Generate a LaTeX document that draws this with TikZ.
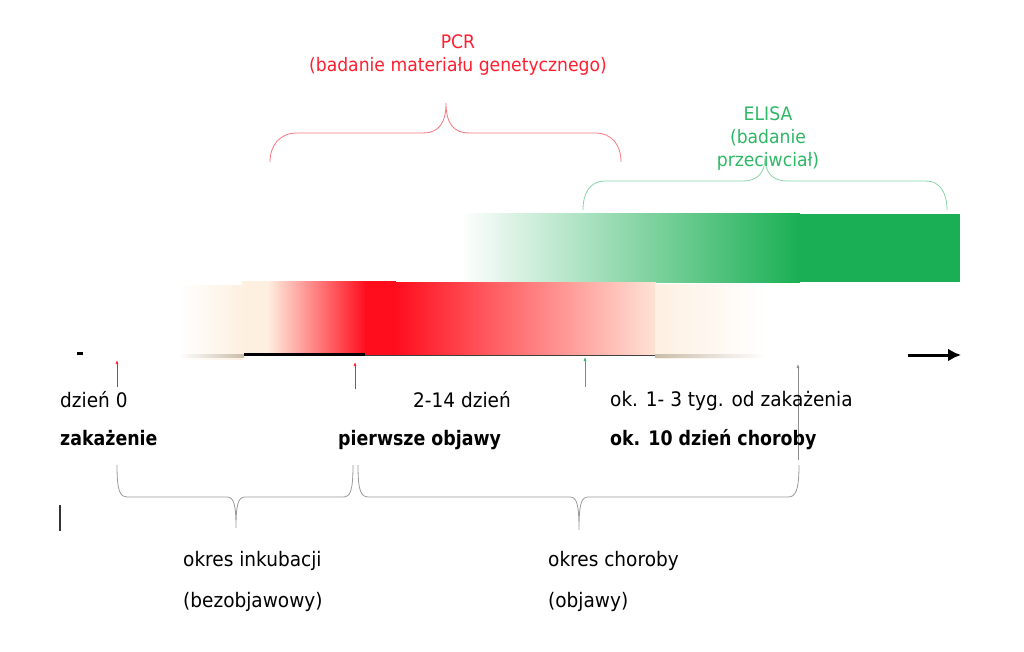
\documentclass[tikz,border=0pt]{standalone}
\usepackage{fontspec}
\setmainfont{DejaVu Sans}[FakeStretch=0.925, BoldFeatures={FakeStretch=0.87}]
\usetikzlibrary{arrows.meta}
\definecolor{pcrred}{HTML}{FF1F30}
\definecolor{pcrbr}{HTML}{F4767E}
\definecolor{elgreen}{HTML}{2DB865}
\definecolor{elbr}{HTML}{86D5A6}
\definecolor{barred}{HTML}{FF0D1D}
\definecolor{bargreen}{HTML}{1AAF54}
\definecolor{cream}{HTML}{FEF0E1}
\definecolor{pale}{HTML}{FFE3D6}
\definecolor{fadegray}{HTML}{C9BDAA}
\begin{document}
\begin{tikzpicture}[x=1pt,y=-1pt,
  lbl/.style={anchor=base west, inner sep=0pt, font=\fontsize{20}{24}\selectfont},
  lblb/.style={anchor=base west, inner sep=0pt, font=\fontsize{20}{24}\selectfont\bfseries},
  head/.style={anchor=base, inner sep=0pt, font=\fontsize{18.6}{22}\selectfont},
  tick/.style={-{Latex[length=4pt,width=3pt]}, line width=0.6pt},
  brace/.style={line width=0.8pt}]
  \useasboundingbox (0,0) rectangle (1024,652);

  % green bar (ELISA)
  \shade[left color=white, right color=bargreen] (460,214) rectangle (800,282);
  \fill[bargreen] (799,214) rectangle (960,282);

  % red bar (PCR)
  \shade[left color=white, right color=cream] (178,285) rectangle (243,359);
  \fill[cream] (242,281) rectangle (268,355);
  \shade[left color=cream, right color=barred] (267,281) rectangle (366,355);
  \fill[barred] (365,281) rectangle (396,355);
  \shade[left color=barred, right color=pale] (395,282) rectangle (656,355);
  \shade[left color=cream, right color=white] (655,284) rectangle (765,358);

  % time axis
  \shade[left color=white, right color=fadegray] (178,354) rectangle (244,357);
  \shade[left color=fadegray, right color=white] (655,354) rectangle (765,357);
  \coordinate (ax0) at (244,354);
  \coordinate (ax1) at (365,354);
  \coordinate (ax2) at (655,355);
  \draw[line width=3pt] (ax0) -- (ax1);
  \draw[line width=1pt, black!75] (ax1 |- ax2) -- (ax2);
  \coordinate (d0) at (77,353);
  \coordinate (d1) at (83,353);
  \draw[line width=3pt] (d0) -- (d1);
  \coordinate (ar0) at (908,355);
  \coordinate (ar1) at (961,355);
  \draw[line width=3pt, -{Latex[length=13pt,width=13pt]}] (ar0) -- (ar1);

  % ticks
  \coordinate (t0a) at (117,387);  \coordinate (t0b) at (117,360);
  \coordinate (t1a) at (355,389);  \coordinate (t1b) at (355,362);
  \coordinate (t2a) at (585,387);  \coordinate (t2b) at (585,357);
  \coordinate (t3a) at (798,460);  \coordinate (t3b) at (798,364);
  \draw[tick, pcrred] (t0a) -- (t0b);
  \draw[tick, pcrred] (t1a) -- (t1b);
  \draw[tick, elgreen] (t2a) -- (t2b);
  \draw[tick, black!45] (t3a) -- (t3b);

  % labels under axis
  \node[lbl] (day0) at (60,407) {dzień 0};
  \node[lblb] (inf) at (60,445) {zakażenie};
  \node[lbl] (days) at (413,407) {2-14 dzień};
  \node[lblb] (sympt) at (338,445) {pierwsze objawy};
  \node[lbl] (weeks) at (610,406) {ok. 1- 3 tyg. od zakażenia};
  \node[lblb] (day10) at (610,445) {ok. 10 dzień choroby};

  % bottom braces
  \draw[brace, black!40] (117,465) .. controls (117,492) and (120,497) .. (128,497) -- (227,497)
    .. controls (234,497) and (236,505) .. (236,528)
    .. controls (236,505) and (238,497) .. (245,497) -- (343,497)
    .. controls (350,497) and (353,492) .. (353,465);
  \draw[brace, black!40] (358,465) .. controls (358,492) and (361,497) .. (369,497) -- (570,497)
    .. controls (577,497) and (579,505) .. (579,530)
    .. controls (579,505) and (581,497) .. (588,497) -- (788,497)
    .. controls (795,497) and (799,492) .. (799,465);
  \coordinate (m0) at (60,505);
  \coordinate (m1) at (60,531);
  \draw[line width=1.2pt, black!80] (m0) -- (m1);

  \node[lbl] (incub) at (183,566) {okres inkubacji};
  \node[lbl] (asym) at (183,607) {(bezobjawowy)};
  \node[lbl] (ill) at (548,566) {okres choroby};
  \node[lbl] (symp) at (548,607) {(objawy)};

  % PCR brace
  \draw[brace, pcrbr] (270,162) .. controls (270,145) and (280,133) .. (297,133) -- (423,133)
    .. controls (438,133) and (446,124) .. (446,103)
    .. controls (446,124) and (454,133) .. (469,133) -- (595,133)
    .. controls (612,133) and (621,145) .. (621,162);
  \node[head, pcrred] (pcr) at (458,49) {PCR};
  \node[head, pcrred] (pcrtxt) at (458,72) {(badanie materiału genetycznego)};

  % ELISA brace
  \draw[brace, elbr] (583,210) .. controls (583,193) and (590,181) .. (605,181) -- (743,181)
    .. controls (757,181) and (765,173) .. (765,158)
    .. controls (765,173) and (773,181) .. (787,181) -- (926,181)
    .. controls (940,181) and (947,193) .. (947,210);
  \node[head, elgreen] (elisa) at (768,121) {ELISA};
  \node[head, elgreen] (eltxt1) at (768,144) {(badanie};
  \node[head, elgreen] (eltxt2) at (768,167) {przeciwciał)};
\end{tikzpicture}
\end{document}
